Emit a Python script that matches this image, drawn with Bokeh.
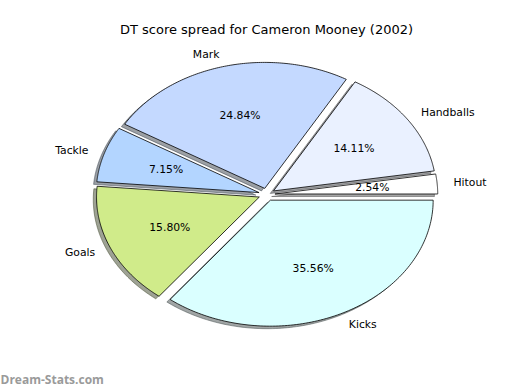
import numpy as np
from bokeh.plotting import figure
from bokeh.models import Range1d, Label
from bokeh.core.properties import value
from bokeh.embed import file_html
from bokeh.resources import INLINE

title = "DT score spread for Cameron Mooney (2002)"
labels = ["Hitout", "Handballs", "Mark", "Tackle", "Goals", "Kicks"]
shares = [2.54, 14.11, 24.84, 7.15, 15.80, 35.56]
colors = ["#FFFFFF", "#EAF1FF", "#C4D9FF", "#B3D5FF", "#D0EB8A", "#DAFFFF"]
explode = [0.05, 0.05, 0.05, 0.05, 0.05, 0.05]

W, H = 520, 390
cx_px, cy_px = 266.3, 194.0   # pie centre in figure pixels
rx_px, ry_px = 162.8, 126.0   # pixels per unit radius

x0 = -cx_px / rx_px
x1 = x0 + W / rx_px
y1 = cy_px / ry_px
y0 = y1 - H / ry_px

p = figure(width=W, height=H, output_backend="svg", toolbar_location=None,
           x_range=Range1d(x0, x1), y_range=Range1d(y0, y1), min_border=0)
p.axis.visible = False
p.grid.visible = False
p.outline_line_color = None
p.background_fill_color = "white"

total = sum(shares)
fracs = [s / total for s in shares]
starts = np.cumsum([0] + fracs[:-1]) * 360.0
ends = np.cumsum(fracs) * 360.0

wx, wy, sx, sy, shade = [], [], [], [], []
lx_l, ly_l, lt_l, lx_r, ly_r, lt_r = [], [], [], [], [], []
px_, py_, pt_ = [], [], []
for lab, f, a0, a1, e, c, s in zip(labels, fracs, starts, ends, explode, colors, shares):
    mid = np.deg2rad((a0 + a1) / 2)
    ox, oy = e * np.cos(mid), e * np.sin(mid)
    th = np.deg2rad(np.linspace(a0, a1, 120))
    xs = np.concatenate([[ox], ox + np.cos(th), [ox]])
    ys = np.concatenate([[oy], oy + np.sin(th), [oy]])
    wx.append(list(xs)); wy.append(list(ys))
    sx.append(list(xs - 0.02)); sy.append(list(ys - 0.02))
    r, g, b = int(c[1:3], 16), int(c[3:5], 16), int(c[5:7], 16)
    shade.append("#%02x%02x%02x" % (int(r * 0.3), int(g * 0.3), int(b * 0.3)))
    xt = ox + 1.1 * np.cos(mid); yt = oy + 1.1 * np.sin(mid)
    if xt > 0:
        lx_l.append(xt); ly_l.append(yt); lt_l.append(lab)
    else:
        lx_r.append(xt); ly_r.append(yt); lt_r.append(lab)
    px_.append(ox + 0.6 * np.cos(mid)); py_.append(oy + 0.6 * np.sin(mid))
    pt_.append("%.2f%%" % s)

p.patches(sx, sy, fill_color=shade, fill_alpha=0.5, line_color=shade, line_alpha=0.5, line_width=1)
p.patches(wx, wy, fill_color=colors, line_color="black", line_width=0.8)

font = value("DejaVu Sans")
fs = value("10.8px")
p.text(lx_l, ly_l, text=lt_l, text_align="left", text_baseline="middle",
       text_font=font, text_font_size=fs, text_color="black")
p.text(lx_r, ly_r, text=lt_r, text_align="right", text_baseline="middle",
       text_font=font, text_font_size=fs, text_color="black")
p.text(px_, py_, text=pt_, text_align="center", text_baseline="middle",
       text_font=font, text_font_size=fs, text_color="black")

p.add_layout(Label(x=266, y=H - 29, x_units="screen", y_units="screen",
                   text=title, text_align="center", text_baseline="middle",
                   text_font="DejaVu Sans", text_font_size="13px", text_color="black"))
p.add_layout(Label(x=0, y=3, x_units="screen", y_units="screen",
                   text="Dream-Stats.com", text_align="left", text_baseline="bottom",
                   text_font="Open Sans", text_font_style="bold", text_font_size="12px",
                   text_color="#9a9a9a"))

open("out.html", "w").write(file_html(p, INLINE))
